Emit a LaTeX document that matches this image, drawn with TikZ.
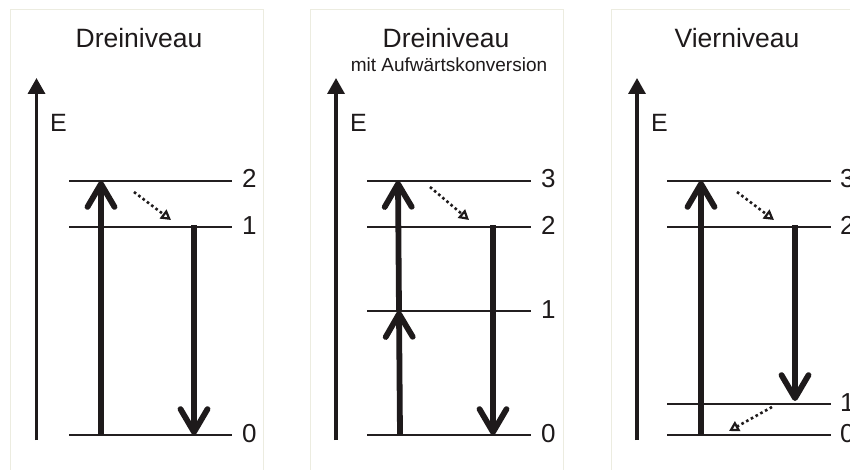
\documentclass[tikz,border=0pt]{standalone}
\usepackage{fontspec}
\setmainfont{Liberation Sans}
\usetikzlibrary{arrows.meta}

\definecolor{framebeige}{RGB}{236,236,224}
\definecolor{levelgray}{RGB}{35,31,32}
\definecolor{inkblack}{RGB}{30,26,27}

\begin{document}
\begin{tikzpicture}[x=1pt,y=-1pt,
  panelframe/.style={draw=framebeige, line width=1pt},
  axisline/.style={draw=inkblack, line width=3.4pt, -{Triangle[length=16pt,width=17pt]}},
  levelline/.style={draw=levelgray, line width=1.4pt},
  transition/.style={draw=inkblack, line width=5.8pt, -{Straight Barb[length=23pt,width=27pt,round]}},
  relaxation/.style={draw=inkblack, line width=2.6pt, dash pattern=on 2.6pt off 2.8pt,
    -{Triangle[open,length=10pt,width=11pt,line width=2.2pt]}},
  titletext/.style={font=\fontsize{26.5}{30}\selectfont, anchor=base, inner sep=0pt, text=inkblack},
  subtitletext/.style={font=\fontsize{19}{22}\selectfont, anchor=base, inner sep=0pt, text=inkblack},
  axislabel/.style={font=\fontsize{25}{28}\selectfont, anchor=base west, inner sep=0pt, text=inkblack},
  levellabel/.style={font=\fontsize{26}{30}\selectfont, anchor=base west, inner sep=0pt, text=inkblack},
]
\path[use as bounding box, clip] (0,0) rectangle (850,470);
\fill[white] (0,0) rectangle (850,470);

% ---------- three-level scheme ----------
\begin{scope}
  \draw[panelframe] (10,10) rectangle (263,490);
  \node[titletext] (a-title) at (139,48) {Dreiniveau};
  \coordinate (a-ax0) at (36.5,440);
  \coordinate (a-ax1) at (36.5,78);
  \draw[axisline] (a-ax0) -- (a-ax1);
  \node[axislabel] (a-E) at (50,132) {E};
  % levels
  \coordinate (a-l2w) at (69,181);  \coordinate (a-l2e) at (232,181);
  \coordinate (a-l1w) at (69,227);  \coordinate (a-l1e) at (232,227);
  \coordinate (a-l0w) at (69,435);  \coordinate (a-l0e) at (232,435);
  \draw[levelline] (a-l2w) -- (a-l2e);
  \draw[levelline] (a-l1w) -- (a-l1e);
  \draw[levelline] (a-l0w) -- (a-l0e);
  \node[levellabel] (a-n2) at (242,188) {2};
  \node[levellabel] (a-n1) at (242,234) {1};
  \node[levellabel] (a-n0) at (242,442) {0};
  % transitions
  \coordinate (a-p0) at (101,435); \coordinate (a-p1) at (101,181);
  \draw[transition] (a-p0) -- (a-p1);
  \coordinate (a-r0) at (134,192); \coordinate (a-r1) at (171,220);
  \draw[relaxation] (a-r0) -- (a-r1);
  \coordinate (a-e0) at (194,225); \coordinate (a-e1) at (194,435);
  \draw[transition] (a-e0) -- (a-e1);
\end{scope}

% ---------- three-level scheme with upconversion ----------
\begin{scope}[xshift=300pt]
  \draw[panelframe] (10,10) rectangle (263,490);
  \node[titletext] (b-title) at (146,48) {Dreiniveau};
  \node[subtitletext] (b-sub) at (149,72) {mit Aufwärtskonversion};
  \coordinate (b-ax0) at (36,440);
  \coordinate (b-ax1) at (36,78);
  \draw[axisline] (b-ax0) -- (b-ax1);
  \node[axislabel] (b-E) at (50,132) {E};
  % levels
  \coordinate (b-l3w) at (67,181);  \coordinate (b-l3e) at (231,181);
  \coordinate (b-l2w) at (67,227);  \coordinate (b-l2e) at (231,227);
  \coordinate (b-l1w) at (67,311);  \coordinate (b-l1e) at (231,311);
  \coordinate (b-l0w) at (67,435);  \coordinate (b-l0e) at (231,435);
  \draw[levelline] (b-l3w) -- (b-l3e);
  \draw[levelline] (b-l2w) -- (b-l2e);
  \draw[levelline] (b-l1w) -- (b-l1e);
  \draw[levelline] (b-l0w) -- (b-l0e);
  \node[levellabel] (b-n3) at (241,188) {3};
  \node[levellabel] (b-n2) at (241,234) {2};
  \node[levellabel] (b-n1) at (241,318) {1};
  \node[levellabel] (b-n0) at (241,442) {0};
  % transitions
  \coordinate (b-p0) at (100,435); \coordinate (b-p1) at (99,311);
  \coordinate (b-p2) at (98,181);
  \draw[transition] (b-p0) -- (b-p1);
  \draw[transition] (b-p1) -- (b-p2);
  \coordinate (b-r0) at (130,187); \coordinate (b-r1) at (169,220);
  \draw[relaxation] (b-r0) -- (b-r1);
  \coordinate (b-e0) at (193,225); \coordinate (b-e1) at (193,435);
  \draw[transition] (b-e0) -- (b-e1);
\end{scope}

% ---------- four-level scheme ----------
\begin{scope}[xshift=600pt]
  \draw[panelframe] (11,10) rectangle (275,490);
  \node[titletext] (c-title) at (137,48) {Vierniveau};
  \coordinate (c-ax0) at (37,440);
  \coordinate (c-ax1) at (37,78);
  \draw[axisline] (c-ax0) -- (c-ax1);
  \node[axislabel] (c-E) at (51,132) {E};
  % levels
  \coordinate (c-l3w) at (67,181);  \coordinate (c-l3e) at (231,181);
  \coordinate (c-l2w) at (67,227);  \coordinate (c-l2e) at (231,227);
  \coordinate (c-l1w) at (67,404);  \coordinate (c-l1e) at (231,404);
  \coordinate (c-l0w) at (67,435);  \coordinate (c-l0e) at (231,435);
  \draw[levelline] (c-l3w) -- (c-l3e);
  \draw[levelline] (c-l2w) -- (c-l2e);
  \draw[levelline] (c-l1w) -- (c-l1e);
  \draw[levelline] (c-l0w) -- (c-l0e);
  \node[levellabel] (c-n3) at (240,188) {3};
  \node[levellabel] (c-n2) at (240,234) {2};
  \node[levellabel] (c-n1) at (240,411) {1};
  \node[levellabel] (c-n0) at (240,442) {0};
  % transitions
  \coordinate (c-p0) at (101,435); \coordinate (c-p1) at (101,181);
  \draw[transition] (c-p0) -- (c-p1);
  \coordinate (c-r0) at (137,192); \coordinate (c-r1) at (174,220);
  \draw[relaxation] (c-r0) -- (c-r1);
  \coordinate (c-e0) at (195,225); \coordinate (c-e1) at (195,401);
  \draw[transition] (c-e0) -- (c-e1);
  \coordinate (c-s0) at (172,407); \coordinate (c-s1) at (129,431);
  \draw[relaxation] (c-s0) -- (c-s1);
\end{scope}
\end{tikzpicture}
\end{document}
